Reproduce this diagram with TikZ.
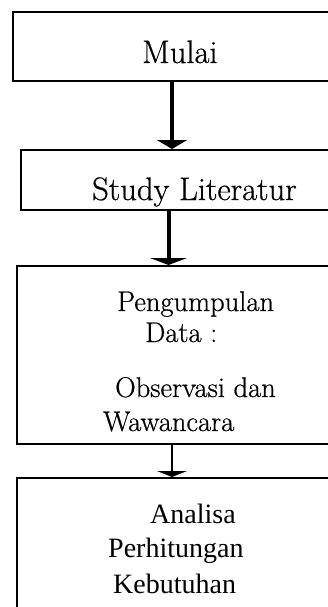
\documentclass[tikz,border=0pt]{standalone}
\usepackage{fontspec}
\newfontfamily\timesfont{Liberation Serif}
\newfontfamily\lmfont{Latin Modern Roman}[FakeBold=0.6]
\usetikzlibrary{arrows.meta}

\begin{document}
\begin{tikzpicture}[x=1pt,y=-1pt,
    box/.style={draw, line width=2pt, anchor=north west, inner sep=0, minimum width=340pt},
    big/.style={anchor=base west, inner sep=0, font=\lmfont\fontsize{32.5}{38}\selectfont},
    small/.style={anchor=base west, inner sep=0, font=\lmfont\fontsize{28.5}{34}\selectfont},
    tnr/.style={anchor=base west, inner sep=0, font=\timesfont\fontsize{28}{34}\selectfont}]
    \useasboundingbox (0,0) rectangle (328,607);
    \clip (0,0) rectangle (328,607);
    % boxes
    \node[box, minimum height=69pt] (mulai) at (12,11) {};
    \node[box, minimum height=60pt] (studi) at (20,149) {};
    \node[box, minimum height=178pt] (data) at (16,265) {};
    \node[box, minimum height=200pt] (analisa) at (16,477) {};
    % texts
    \node[big] (tmulai) at (142,63) {Mulai};
    \node[big] (tstudi) at (92,200) {Study Literatur};
    \node[small] (tdata1) at (117,311) {Pengumpulan};
    \node[small] (tdata2) at (145,342) {Data :};
    \node[small] (tdata3) at (115,397) {Observasi dan};
    \node[small] (tdata4) at (103,431) {Wawancara};
    \node[tnr] (tanalisa1) at (150,523) {Analisa};
    \node[tnr] (tanalisa2) at (108,557) {Perhitungan};
    \node[tnr] (tanalisa3) at (113,593) {Kebutuhan};
    % arrows
    \coordinate (a1) at (172,0);
    \coordinate (a2) at (168.5,0);
    \coordinate (a3) at (172,0);
    \draw [line width=4pt, -{Triangle[width=30pt,length=9pt]}] (mulai.south -| a1) -- (studi.north -| a1);
    \draw [line width=4pt, -{Triangle[width=37pt,length=7pt]}] (studi.south -| a2) -- (data.north -| a2);
    \draw [line width=2pt, -{Triangle[width=30pt,length=6pt]}] (data.south -| a3) -- (analisa.north -| a3);
\end{tikzpicture}
\end{document}
